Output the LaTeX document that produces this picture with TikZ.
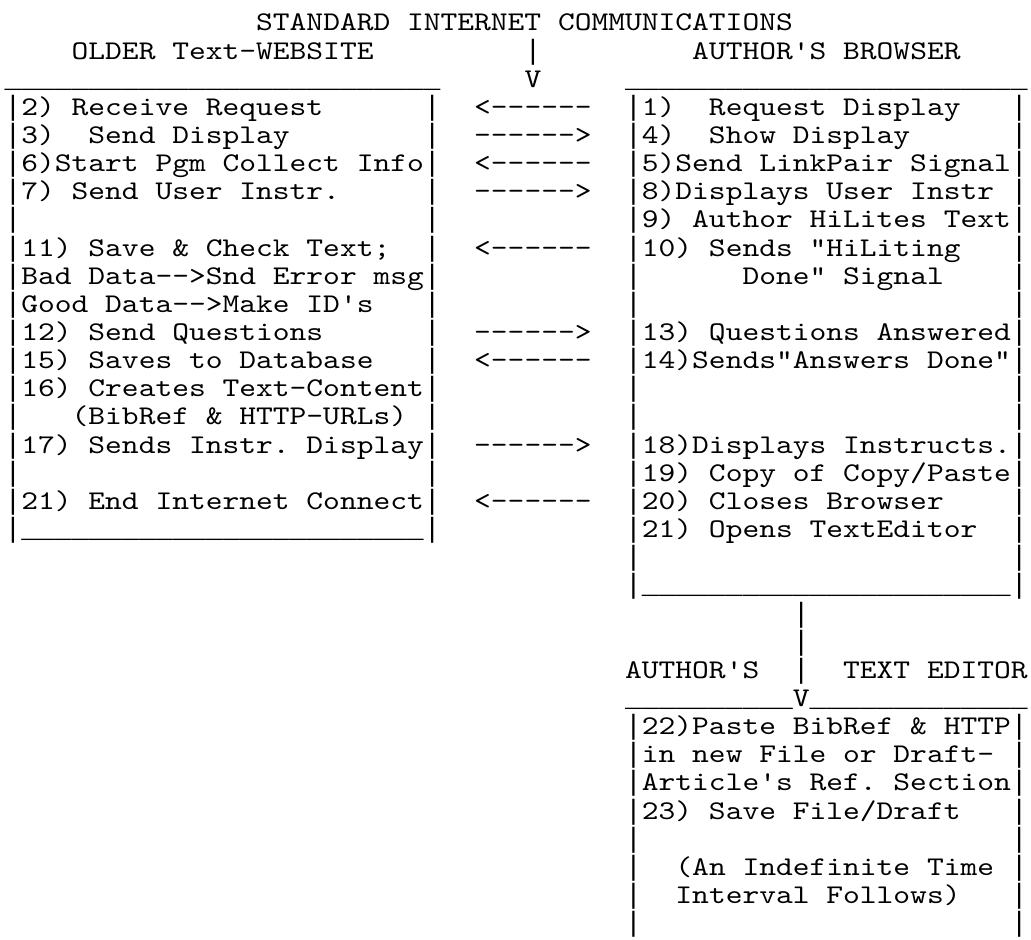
\documentclass[tikz,border=0pt]{standalone}
\usepackage{fontspec}
\setmonofont{lmmono10-regular.otf}[FakeStretch=1.183]
\newfontfamily\rulefont{Liberation Mono}
\usepackage{tikz}

\tikzset{
  ch/.style={anchor=base west, inner sep=0pt, outer sep=0pt,
    font=\ttfamily\frenchspacing\fontsize{13.5pt}{14pt}\selectfont},
  edge/.style={ch, font=\rulefont\fontsize{13.97pt}{14pt}\selectfont},
}
\newcommand{\underrun}[1]{\foreach \k in {1,...,#1}{\_}}

\begin{document}
\begin{tikzpicture}[x=8.385pt, y=-14.075pt]
  \useasboundingbox (-0.274,-1.096) rectangle (61.2,32.26);
  % heading
  \node[ch] (title) at (15,0) {STANDARD INTERNET COMMUNICATIONS};
  \node[ch] (site) at (4,1) {OLDER Text-WEBSITE};
  \node[edge] (down1) at (31,1) {|};
  \node[ch] (browser) at (41,1) {AUTHOR'S BROWSER};
  \node[ch] (down2) at (31,2) {V};
  \node[edge] (sitetop) at (0,2) {\underrun{26}};
  \node[edge] (browsertop) at (37,2) {\underrun{24}};

  % box sides
  \foreach \r in {3,...,18}{
    \node[edge] (sl\r) at (0,\r) {|};
    \node[edge] (sr\r) at (25,\r) {|};
  }
  \foreach \r in {3,...,20}{
    \node[edge] (bl\r) at (37,\r) {|};
    \node[edge] (br\r) at (60,\r) {|};
  }
  \node[edge] (sitebot) at (1,18) {\underrun{24}};
  \node[edge] (browserbot) at (38,20) {\underrun{22}};

  % website side
  \node[ch] (s2) at (1,3) {2) Receive Request};
  \node[ch] (s3) at (1,4) {3)~~Send Display};
  \node[ch] (s6) at (1,5) {6)Start Pgm Collect Info};
  \node[ch] (s7) at (1,6) {7) Send User Instr.};
  \node[ch] (s11) at (1,8) {11) Save \& Check Text;};
  \node[ch] (s11b) at (1,9) {Bad Data-->Snd Error msg};
  \node[ch] (s11c) at (1,10) {Good Data-->Make ID's};
  \node[ch] (s12) at (1,11) {12) Send Questions};
  \node[ch] (s15) at (1,12) {15) Saves to Database};
  \node[ch] (s16) at (1,13) {16) Creates Text-Content};
  \node[ch] (s16b) at (4,14) {(BibRef \& HTTP-URLs)};
  \node[ch] (s17) at (1,15) {17) Sends Instr. Display};
  \node[ch] (s21) at (1,17) {21) End Internet Connect};

  % browser side
  \node[ch] (b1) at (38,3) {1)~~Request Display};
  \node[ch] (b4) at (38,4) {4)~~Show Display};
  \node[ch] (b5) at (38,5) {5)Send LinkPair Signal};
  \node[ch] (b8) at (38,6) {8)Displays User Instr};
  \node[ch] (b9) at (38,7) {9) Author HiLites Text};
  \node[ch] (b10) at (38,8) {10) Sends "HiLiting};
  \node[ch] (b10b) at (44,9) {Done" Signal};
  \node[ch] (b13) at (38,11) {13) Questions Answered};
  \node[ch] (b14) at (38,12) {14)Sends"Answers Done"};
  \node[ch] (b18) at (38,15) {18)Displays Instructs.};
  \node[ch] (b19) at (38,16) {19) Copy of Copy/Paste};
  \node[ch] (b20) at (38,17) {20) Closes Browser};
  \node[ch] (b21) at (38,18) {21) Opens TextEditor};

  % messages
  \node[ch] (m1) at (28,3) {<------};
  \node[ch] (m3) at (28,4) {------>};
  \node[ch] (m5) at (28,5) {<------};
  \node[ch] (m7) at (28,6) {------>};
  \node[ch] (m10) at (28,8) {<------};
  \node[ch] (m12) at (28,11) {------>};
  \node[ch] (m14) at (28,12) {<------};
  \node[ch] (m17) at (28,15) {------>};
  \node[ch] (m20) at (28,17) {<------};

  % to the editor
  \node[edge] (down3) at (47,21) {|};
  \node[edge] (down4) at (47,22) {|};
  \node[ch] (editor) at (37,23) {AUTHOR'S};
  \node[edge] (down5) at (47,23) {|};
  \node[ch] (editor2) at (50,23) {TEXT EDITOR};
  \node[edge] (edtopl) at (37,24) {\underrun{10}};
  \node[ch] (down6) at (47,24) {V};
  \node[edge] (edtopr) at (48,24) {\underrun{13}};
  \foreach \r in {25,...,32}{
    \node[edge] (el\r) at (37,\r) {|};
    \node[edge] (er\r) at (60,\r) {|};
  }
  \node[ch] (e22) at (38,25) {22)Paste BibRef \& HTTP};
  \node[ch] (e22b) at (38,26) {in new File or Draft-};
  \node[ch] (e22c) at (38,27) {Article's Ref. Section};
  \node[ch] (e23) at (38,28) {23) Save File/Draft};
  \node[ch] (wait) at (40,30) {(An Indefinite Time};
  \node[ch] (wait2) at (40,31) {Interval Follows)};
\end{tikzpicture}
\end{document}
